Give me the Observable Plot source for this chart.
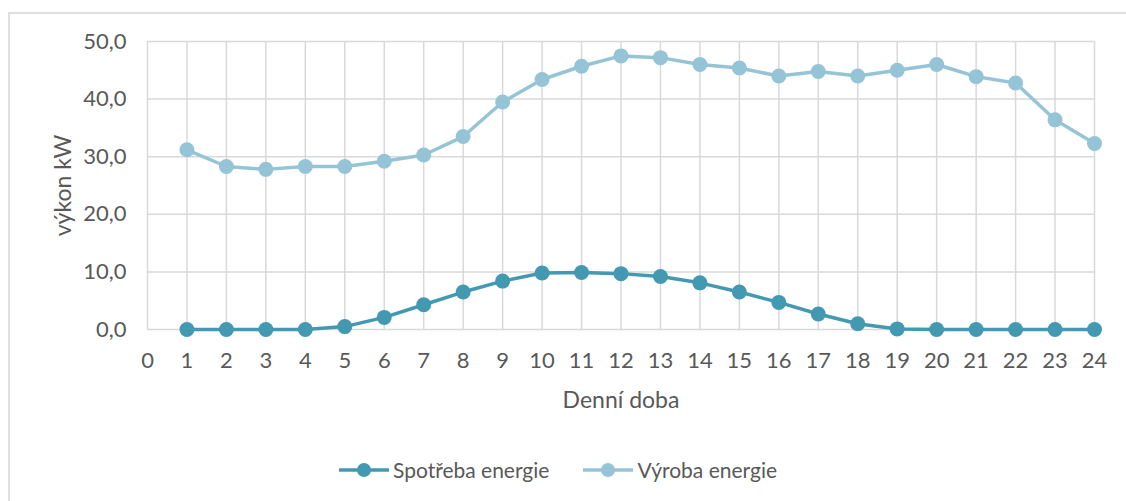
<!DOCTYPE html>
<html>
<head>
<meta charset="utf-8">
<script src="https://cdn.jsdelivr.net/npm/d3@7"></script>
<script src="https://cdn.jsdelivr.net/npm/@observablehq/plot@0.6"></script>
<style>
  body { margin: 0; background: #fff; font-family: Lato, "Open Sans", sans-serif; }
  #frame { position: absolute; left: 8px; top: 12px; width: 1200px; height: 600px; border: 2px solid #dedede; box-sizing: border-box; }
  #chart { position: absolute; left: 0; top: 0; }
  #legend { position: absolute; left: 339px; top: 457px; display: flex; align-items: center; font-size: 21px; color: #595959; }
  .item { display: flex; align-items: center; }
  .item span { margin-left: 4px; }
</style>
</head>
<body>
<div id="frame"></div>
<div id="chart"></div>
<div id="legend"></div>
<script>
const hours = [1,2,3,4,5,6,7,8,9,10,11,12,13,14,15,16,17,18,19,20,21,22,23,24];
const spotreba = [0,0,0,0,0.5,2.1,4.3,6.5,8.4,9.8,9.9,9.7,9.2,8.1,6.5,4.7,2.7,1.0,0.1,0,0,0,0,0];
const vyroba = [31.2,28.3,27.8,28.3,28.3,29.2,30.3,33.5,39.5,43.4,45.7,47.5,47.2,46.0,45.4,44.0,44.8,44.0,45.0,46.0,43.9,42.8,36.4,32.3];
const seriesNames = ["Spotřeba energie", "Výroba energie"];
const seriesColors = ["#4299b1", "#94c4d6"];
const xTicks = [0,1,2,3,4,5,6,7,8,9,10,11,12,13,14,15,16,17,18,19,20,21,22,23,24];
const yTicks = [0,10,20,30,40,50];
const xTitle = "Denní doba";
const yTitle = "výkon kW";

const data = [];
hours.forEach((h, i) => {
  data.push({hour: h, value: spotreba[i], series: seriesNames[0]});
});
hours.forEach((h, i) => {
  data.push({hour: h, value: vyroba[i], series: seriesNames[1]});
});

const fmt = d => d.toFixed(1).replace(".", ",");

const chart = Plot.plot({
  width: 1126,
  height: 420,
  marginLeft: 147,
  marginRight: 32,
  marginTop: 41,
  marginBottom: 91,
  style: {fontFamily: "Lato, 'Open Sans', sans-serif", fontSize: "22px", color: "#595959", background: "transparent", overflow: "visible"},
  x: {domain: [0, 24]},
  y: {domain: [0, 50]},
  color: {domain: seriesNames, range: seriesColors},
  marks: [
    Plot.ruleX(xTicks, {stroke: "#d9d9d9", strokeWidth: 1.5}),
    Plot.ruleY(yTicks, {stroke: "#d9d9d9", strokeWidth: 1.5}),
    Plot.axisX(xTicks, {tickSize: 0, tickPadding: 23, label: null, tickFormat: d => String(d), fontSize: 22}),
    Plot.axisY(yTicks, {tickSize: 0, tickPadding: 21, label: null, tickFormat: fmt, fontSize: 22}),
    Plot.text([xTitle], {frameAnchor: "bottom", dy: 78, text: d => d, fill: "#595959", fontSize: 23}),
    Plot.text([yTitle], {frameAnchor: "left", dx: -84, rotate: -90, textAnchor: "middle", text: d => d, fill: "#595959", fontSize: 23}),
    Plot.line(data, {x: "hour", y: "value", stroke: "series", z: "series", strokeWidth: 3.5}),
    Plot.dot(data, {x: "hour", y: "value", fill: "series", r: 7.5})
  ]
});
document.getElementById("chart").appendChild(chart);

const legend = document.getElementById("legend");
seriesNames.forEach((name, i) => {
  const item = document.createElement("div");
  item.className = "item";
  if (i > 0) item.style.marginLeft = "34px";
  item.innerHTML = `<svg width="50" height="18"><line x1="0" y1="9" x2="50" y2="9" stroke="${seriesColors[i]}" stroke-width="3.5"/><circle cx="25" cy="9" r="7" fill="${seriesColors[i]}"/></svg><span>${name}</span>`;
  legend.appendChild(item);
});
</script>
</body>
</html>
